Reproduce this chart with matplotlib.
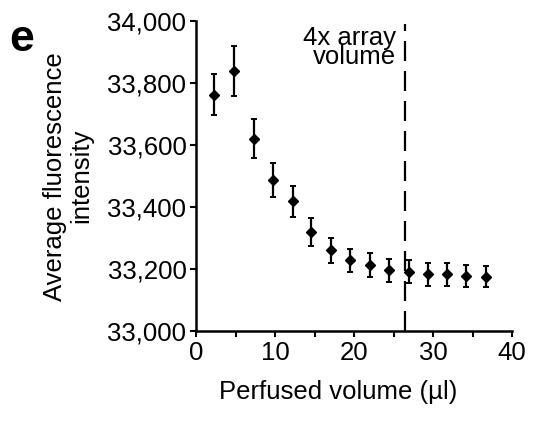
import matplotlib.pyplot as plt
from matplotlib.ticker import MultipleLocator, FuncFormatter

plt.rcParams['font.family'] = ['Liberation Sans', 'DejaVu Sans']

volume = [2.3, 4.8, 7.3, 9.7, 12.2, 14.6, 17.1, 19.5, 22.0, 24.4, 26.9, 29.3, 31.8, 34.2, 36.7]
intensity = [33763, 33840, 33621, 33489, 33419, 33321, 33261, 33229, 33214, 33196, 33192, 33184, 33184, 33178, 33176]
err = [66, 80, 62, 55, 50, 45, 40, 37, 38, 37, 37, 37, 37, 37, 35]
array_line = 26.5

fig = plt.figure(figsize=(5.39, 4.23), dpi=100)
ax = fig.add_axes([0.364, 0.217, 0.586, 0.733])

ax.errorbar(volume, intensity, yerr=err, fmt='D', color='black', ms=5,
            elinewidth=1.6, capsize=2.5, capthick=1.4)
ax.plot([array_line, array_line], [33000, 33990], color='black', ls=(0, (9, 4.5)), lw=1.6)
ax.text(array_line - 1.2, 33985, "4x array\nvolume", ha='right', va='top',
        fontsize=18.5, linespacing=0.75)

ax.set_xlim(0, 40)
ax.set_ylim(33000, 34000)
ax.xaxis.set_major_locator(MultipleLocator(10))
ax.xaxis.set_minor_locator(MultipleLocator(5))
ax.yaxis.set_major_locator(MultipleLocator(200))
ax.yaxis.set_major_formatter(FuncFormatter(lambda v, p: f"{int(v):,}"))

for s in ['top', 'right']:
    ax.spines[s].set_visible(False)
for s in ['left', 'bottom']:
    ax.spines[s].set_linewidth(1.8)
ax.tick_params(which='both', direction='out', length=4, width=1.5, labelsize=18.5, pad=3)

ax.set_xlabel("Perfused volume (µl)", fontsize=18.5, labelpad=11, x=0.45)
ax.set_ylabel("Average fluorescence\nintensity", fontsize=18.5, labelpad=10, linespacing=1.15)
fig.text(0.018, 0.88, "e", fontsize=32, fontweight='bold')

fig.savefig("out.png", dpi=100)
